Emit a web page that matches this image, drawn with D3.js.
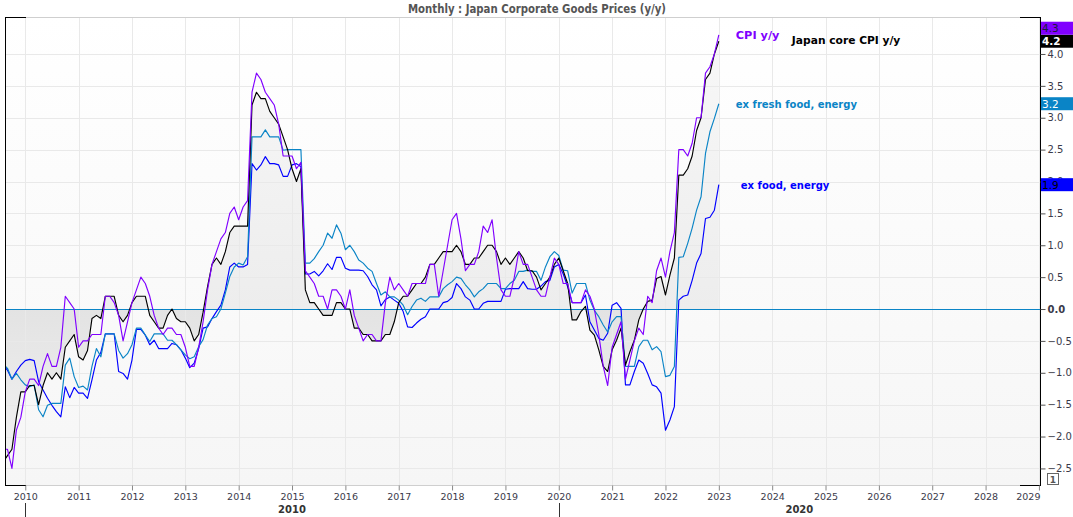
<!DOCTYPE html>
<html><head><meta charset="utf-8">
<script src="https://cdn.jsdelivr.net/npm/d3@7"></script>
<style>
html,body{margin:0;padding:0;background:#fff;}
svg{display:block;}
</style></head>
<body>
<svg id="chart" width="1073" height="517"></svg>
<script>
// ---------------- DATA ----------------
const title = "Monthly : Japan Corporate Goods Prices (y/y)";
const startYear = 2009, startMonth = 7; // first observation: Aug 2009 (month index 7)

// CPI y/y (headline) — Aug 2009 .. Jan 2023
const cpi = [
  -2.2,-2.2,-2.5,-1.9,-1.7,
  -1.3,-1.1,-1.1,-1.2,-0.9,-0.7,-0.9,-0.9,-0.6,0.2,0.1,0.0,
  -0.6,-0.5,-0.5,-0.4,-0.4,-0.4,0.2,0.2,0.1,-0.1,-0.5,-0.2,
  0.1,0.3,0.5,0.4,0.2,-0.1,-0.3,-0.4,-0.3,-0.3,-0.4,-0.4,
  -0.6,-0.9,-0.9,-0.6,-0.2,0.3,0.7,0.9,1.1,1.2,1.5,1.6,
  1.4,1.6,1.7,3.4,3.7,3.6,3.4,3.3,3.2,2.9,2.4,2.4,
  2.4,2.2,2.3,0.6,0.5,0.4,0.2,0.2,0.0,0.3,0.3,0.2,
  0.0,0.3,-0.1,-0.3,-0.5,-0.4,-0.4,-0.5,-0.5,0.1,0.5,0.3,
  0.4,0.3,0.2,0.4,0.4,0.4,0.4,0.7,0.7,0.2,0.6,1.0,
  1.4,1.5,1.1,0.6,0.7,0.7,0.9,1.3,1.2,1.4,0.8,0.3,
  0.2,0.2,0.5,0.9,0.7,0.7,0.5,0.3,0.2,0.2,0.5,0.8,
  0.7,0.4,0.4,0.1,0.1,0.1,0.3,0.2,0.0,-0.4,-0.9,-1.2,
  -0.6,-0.4,-0.2,-1.1,-0.8,-0.5,-0.3,-0.4,0.2,0.1,0.6,0.8,
  0.5,0.9,1.2,2.5,2.5,2.4,2.6,3.0,3.0,3.7,3.8,4.0,
  4.3
];
// Japan core CPI y/y (ex fresh food)
const core = [
  -2.4,-2.3,-2.2,-1.7,-1.3,
  -1.3,-1.2,-1.2,-1.5,-1.2,-1.0,-1.1,-1.0,-1.1,-0.6,-0.5,-0.4,
  -0.75,-0.8,-0.65,-0.15,-0.1,-0.15,0.2,0.2,0.2,-0.1,-0.2,-0.1,
  0.1,0.2,0.2,0.2,-0.1,-0.2,-0.3,-0.3,-0.1,0.0,-0.15,-0.2,
  -0.2,-0.3,-0.5,-0.4,-0.05,0.35,0.7,0.8,0.7,0.9,1.2,1.3,
  1.3,1.3,1.3,3.2,3.4,3.3,3.3,3.1,3.0,2.9,2.7,2.5,
  2.2,2.0,2.2,0.3,0.1,0.1,0.0,-0.1,-0.1,-0.1,0.1,0.1,
  0.0,0.0,-0.3,-0.3,-0.4,-0.4,-0.5,-0.5,-0.5,-0.4,-0.4,-0.2,
  0.1,0.2,0.2,0.3,0.4,0.4,0.5,0.7,0.7,0.8,0.9,0.9,
  0.9,1.0,0.9,0.7,0.7,0.8,0.8,0.9,1.0,1.0,0.9,0.7,
  0.8,0.7,0.8,0.9,0.8,0.6,0.6,0.5,0.3,0.4,0.5,0.7,
  0.8,0.6,0.4,-0.17,-0.17,-0.04,0.04,-0.33,-0.41,-0.64,-0.9,-0.98,
  -0.64,-0.49,-0.3,-0.88,-0.67,-0.49,-0.17,0.0,0.12,0.14,0.48,0.51,
  0.22,0.53,0.8,2.1,2.1,2.2,2.4,2.8,3.0,3.6,3.7,4.0,
  4.2
];
// ex fresh food, energy
const exFreshFoodEnergy = [
  -0.86,-0.93,-1.10,-1.01,-1.11,
  -1.19,-1.22,-1.19,-1.58,-1.69,-1.51,-1.48,-1.48,-1.48,-0.88,-0.77,-1.06,
  -1.23,-1.21,-1.27,-0.90,-0.62,-0.75,-0.39,-0.39,-0.39,-0.65,-0.77,-0.70,
  -0.56,-0.30,-0.30,-0.41,-0.51,-0.39,-0.39,-0.39,-0.49,-0.49,-0.56,-0.64,
  -0.72,-0.78,-0.75,-0.59,-0.48,-0.25,-0.15,-0.12,0.00,0.25,0.51,0.66,
  0.72,0.69,0.82,2.70,2.70,2.70,2.81,2.70,2.70,2.70,2.49,2.50,
  2.50,2.50,2.50,0.72,0.72,0.79,0.90,1.00,1.19,1.11,1.32,1.19,
  0.93,1.00,0.90,0.77,0.72,0.64,0.59,0.40,0.22,0.27,0.19,0.19,
  0.14,0.06,-0.09,0.04,0.14,0.17,0.12,0.19,0.19,0.19,0.32,0.38,
  0.43,0.50,0.48,0.38,0.30,0.19,0.27,0.32,0.40,0.40,0.40,0.32,
  0.32,0.40,0.45,0.59,0.59,0.61,0.59,0.59,0.45,0.66,0.82,0.90,
  0.84,0.61,0.60,0.25,0.40,0.40,0.40,0.14,-0.02,-0.12,-0.25,-0.36,
  -0.20,-0.12,-0.12,-0.90,-0.90,-0.90,-0.59,-0.49,-0.49,-0.64,-0.59,-0.67,
  -1.06,-1.04,-0.90,0.81,0.82,1.03,1.27,1.55,1.76,2.44,2.78,2.99,
  3.22
];
// ex food, energy
const exFoodEnergy = [
  -0.88,-0.96,-1.10,-0.98,-0.88,
  -0.81,-0.79,-0.81,-1.14,-1.27,-1.40,-1.51,-1.61,-1.69,-1.22,-1.39,-1.23,
  -1.32,-1.32,-1.40,-1.11,-0.80,-0.68,-0.39,-0.39,-0.39,-0.98,-1.01,-1.10,
  -0.80,-0.32,-0.32,-0.41,-0.56,-0.49,-0.62,-0.62,-0.62,-0.54,-0.56,-0.64,
  -0.77,-0.92,-0.85,-0.62,-0.30,-0.28,-0.15,-0.04,0.06,0.30,0.66,0.72,
  0.66,0.66,0.70,2.28,2.18,2.26,2.39,2.28,2.28,2.26,2.08,2.08,
  2.26,2.28,2.23,0.55,0.55,0.59,0.52,0.60,0.71,0.62,0.81,0.81,
  0.64,0.61,0.61,0.61,0.60,0.51,0.38,0.30,0.05,0.15,0.19,0.14,
  0.09,-0.04,-0.28,-0.29,-0.22,-0.16,-0.12,0.00,0.00,0.00,0.10,0.12,
  0.18,0.40,0.32,0.19,0.14,0.00,0.00,0.09,0.12,0.12,0.12,0.12,
  0.31,0.32,0.32,0.32,0.43,0.32,0.31,0.31,0.36,0.43,0.45,0.66,
  0.70,0.55,0.35,0.10,0.10,0.10,0.22,-0.20,-0.33,-0.46,-0.49,-0.38,
  0.06,0.10,0.01,-1.19,-1.19,-0.98,-0.80,-0.85,-1.01,-1.19,-1.22,-1.32,
  -1.90,-1.74,-1.53,0.14,0.20,0.22,0.45,0.72,0.87,1.42,1.44,1.55,
  1.95
];
const seriesNames  = ["CPI y/y", "Japan core CPI y/y", "ex fresh food, energy", "ex food, energy"];
const seriesColors = ["#8000ff", "#000000", "#0a84c6", "#0000ff"];
const yTicks = [-2.5,-2.0,-1.5,-1.0,-0.5,0.0,0.5,1.0,1.5,2.0,2.5,3.0,3.5,4.0];
const xTicks = [2010,2011,2012,2013,2014,2015,2016,2017,2018,2019,2020,2021,2022,2023,2024,2025,2026,2027,2028,2029];
const decadeLabels = [2010, 2020];

// ---------------- LAYOUT ----------------
const W = 1073, H = 517;
const P = {left: 5, right: 1040, top: 17, bottom: 485};
const svg = d3.select("#chart");
const defs = svg.append("defs");
const FONT = "DejaVu Sans, Verdana, sans-serif";

const x = d3.scaleLinear().domain([2009.62, 2029.02]).range([P.left, P.right]);
const y = d3.scaleLinear().domain([-2.76, 4.58]).range([P.bottom, P.top]);
const t = i => startYear + (startMonth + i) / 12;

// gradients
const bg = defs.append("linearGradient").attr("id","bg").attr("x1",0).attr("y1",0).attr("x2",0).attr("y2",1);
bg.append("stop").attr("offset","0%").attr("stop-color","#ffffff");
bg.append("stop").attr("offset","100%").attr("stop-color","#f6f6f6");

const zf = (y(0) - P.top) / (P.bottom - P.top);
const fg = defs.append("linearGradient").attr("id","fillg").attr("gradientUnits","userSpaceOnUse")
  .attr("x1",0).attr("y1",P.top).attr("x2",0).attr("y2",P.bottom);
fg.append("stop").attr("offset",0).attr("stop-color","#f8f8f8");
fg.append("stop").attr("offset",zf).attr("stop-color","#ededed");
fg.append("stop").attr("offset",zf).attr("stop-color","#e3e3e3");
fg.append("stop").attr("offset",1).attr("stop-color","#f4f4f4");

defs.append("clipPath").attr("id","clip").append("rect")
  .attr("x",P.left).attr("y",P.top).attr("width",P.right-P.left).attr("height",P.bottom-P.top);

// background
svg.append("rect").attr("x",P.left).attr("y",P.top).attr("width",P.right-P.left).attr("height",P.bottom-P.top)
  .attr("fill","url(#bg)");

const plot = svg.append("g").attr("clip-path","url(#clip)");

// fill between zero and core CPI
const area = d3.area().x((d,i)=>x(t(i))).y0(y(0)).y1(d=>y(d));
plot.append("path").datum(core).attr("d",area).attr("fill","url(#fillg)");

// grid
plot.append("g").selectAll("line").data(yTicks).join("line")
  .attr("x1",P.left).attr("x2",P.right).attr("y1",d=>Math.round(y(d))+0.5).attr("y2",d=>Math.round(y(d))+0.5)
  .attr("stroke","#e9e9e9").attr("stroke-width",1);
plot.append("g").selectAll("line").data(xTicks).join("line")
  .attr("y1",P.top).attr("y2",P.bottom).attr("x1",d=>Math.round(x(d))+0.5).attr("x2",d=>Math.round(x(d))+0.5)
  .attr("stroke","#e9e9e9").attr("stroke-width",1);

// zero line
plot.append("line").attr("x1",P.left).attr("x2",P.right)
  .attr("y1",Math.round(y(0))+0.5).attr("y2",Math.round(y(0))+0.5)
  .attr("stroke","#0a84c6").attr("stroke-width",1.2);

// series lines
const allSeries = [cpi, core, exFreshFoodEnergy, exFoodEnergy];
const line = d3.line().x((d,i)=>x(t(i))).y(d=>y(d));
[3,2,1,0].forEach(k=>{
  plot.append("path").datum(allSeries[k]).attr("d",line)
    .attr("fill","none").attr("stroke",seriesColors[k]).attr("stroke-width",1.15)
    .attr("stroke-linejoin","round");
});

// series labels near last points
const labelOffsets = [[17,4],[73,3],[17,4],[22,4]];
const labelSizes = ["11.3px","10.7px","10px","10px"];
const lastIdx = cpi.length - 1;
allSeries.forEach((s,k)=>{
  svg.append("text").attr("x", x(t(lastIdx)) + labelOffsets[k][0]).attr("y", y(s[lastIdx]) + labelOffsets[k][1])
    .attr("fill", seriesColors[k]).attr("font-family",FONT)
    .attr("font-size",labelSizes[k]).attr("font-weight","bold").text(seriesNames[k]);
});

// frame
const frame = svg.append("g");
frame.append("line").attr("x1",P.left).attr("x2",P.right).attr("y1",P.top+0.5).attr("y2",P.top+0.5).attr("stroke","#cfcfcf");
frame.append("line").attr("x1",P.left).attr("x2",P.right).attr("y1",P.bottom+0.5).attr("y2",P.bottom+0.5).attr("stroke","#cfcfcf");
frame.append("line").attr("x1",P.left+0.5).attr("x2",P.left+0.5).attr("y1",P.top).attr("y2",P.bottom+1).attr("stroke","#000");
frame.append("line").attr("x1",P.right+0.5).attr("x2",P.right+0.5).attr("y1",P.top).attr("y2",P.bottom+1).attr("stroke","#000");
[[P.left,P.left+20,P.top],[P.right-20,P.right,P.top],[P.left,P.left+20,P.bottom],[P.right-20,P.right,P.bottom]].forEach(c=>{
  frame.append("line").attr("x1",c[0]).attr("x2",c[1]+1).attr("y1",c[2]+0.5).attr("y2",c[2]+0.5).attr("stroke","#000");
});

// right axis
const yAxis = svg.append("g").attr("transform",`translate(${P.right+0.5},0)`)
  .call(d3.axisRight(y).tickValues(yTicks).tickSize(5).tickPadding(2).tickFormat(d3.format(".1f")));
yAxis.select(".domain").remove();
yAxis.selectAll(".tick line").attr("stroke","#555");
yAxis.selectAll(".tick text").attr("fill","#3a3a4a").attr("font-family",FONT)
  .attr("font-size","10px").attr("font-weight",d=>d===0?"bold":"normal");

// bottom axis
const xAxis = svg.append("g").attr("transform",`translate(0,${P.bottom+0.5})`)
  .call(d3.axisBottom(x).tickValues(xTicks).tickSize(5).tickPadding(3).tickFormat(d3.format("d")));
xAxis.select(".domain").remove();
xAxis.selectAll(".tick line").attr("stroke","#888");
xAxis.selectAll(".tick text").attr("fill","#3a3a4a").attr("font-family",FONT)
  .attr("font-size","9.5px");
// keep the last label inside the plot's right edge
xAxis.selectAll(".tick").filter(d=>d===xTicks[xTicks.length-1]).select("text")
  .attr("text-anchor","end").attr("x",1);

// decade markers
const decEdges = [decadeLabels[0], decadeLabels[1], 2029.02];
decadeLabels.forEach((d,i)=>{
  svg.append("line").attr("x1",Math.round(x(d))+0.5).attr("x2",Math.round(x(d))+0.5)
    .attr("y1",503).attr("y2",H).attr("stroke","#333");
  svg.append("text").attr("x",(x(decEdges[i])+x(decEdges[i+1]))/2).attr("y",513)
    .attr("text-anchor","middle").attr("font-family",FONT)
    .attr("font-size","10px").attr("font-weight","bold").attr("fill","#333").text(d);
});

// value tags on the right
const tagH = 13;
const lastVals = allSeries.map((s,k)=>({k, v:s[lastIdx]}));
const tagTextColors = ["#1b1b3a","#ffffff","#ffffff","#000000"];
const sorted = lastVals.slice().sort((a,b)=>a.v-b.v);
let prevTop = Infinity;
sorted.forEach(o=>{
  let top = y(o.v) - tagH/2;
  if (top + tagH > prevTop) top = prevTop - tagH;
  o.top = top; prevTop = top;
});
const tags = svg.append("g");
sorted.forEach(o=>{
  tags.append("rect").attr("x",P.right+1).attr("y",o.top).attr("width",W-P.right-1).attr("height",tagH)
    .attr("fill",seriesColors[o.k]);
  tags.append("text").attr("x",P.right+2).attr("y",o.top+tagH-2.5)
    .attr("fill",tagTextColors[o.k]).attr("font-family",FONT)
    .attr("font-size","10.5px").attr("font-weight",o.k===1?"bold":"normal").text(d3.format(".1f")(o.v));
});

// small box bottom right
svg.append("rect").attr("x",1047.5).attr("y",473.5).attr("width",11).attr("height",11)
  .attr("fill","#fff").attr("stroke","#666");
svg.append("text").attr("x",1053).attr("y",482.5).attr("text-anchor","middle")
  .attr("font-family","DejaVu Sans, sans-serif").attr("font-size","9px").attr("font-weight","bold")
  .attr("fill","#555").text("1");

// title
svg.append("text").attr("x",537).attr("y",13).attr("text-anchor","middle")
  .attr("font-family","Liberation Sans Narrow, DejaVu Sans Condensed, Arial Narrow, sans-serif")
  .attr("font-size","12px").attr("font-weight","bold").attr("fill","#555")
  .attr("textLength",258).attr("lengthAdjust","spacingAndGlyphs").text(title);
</script>
</body></html>
